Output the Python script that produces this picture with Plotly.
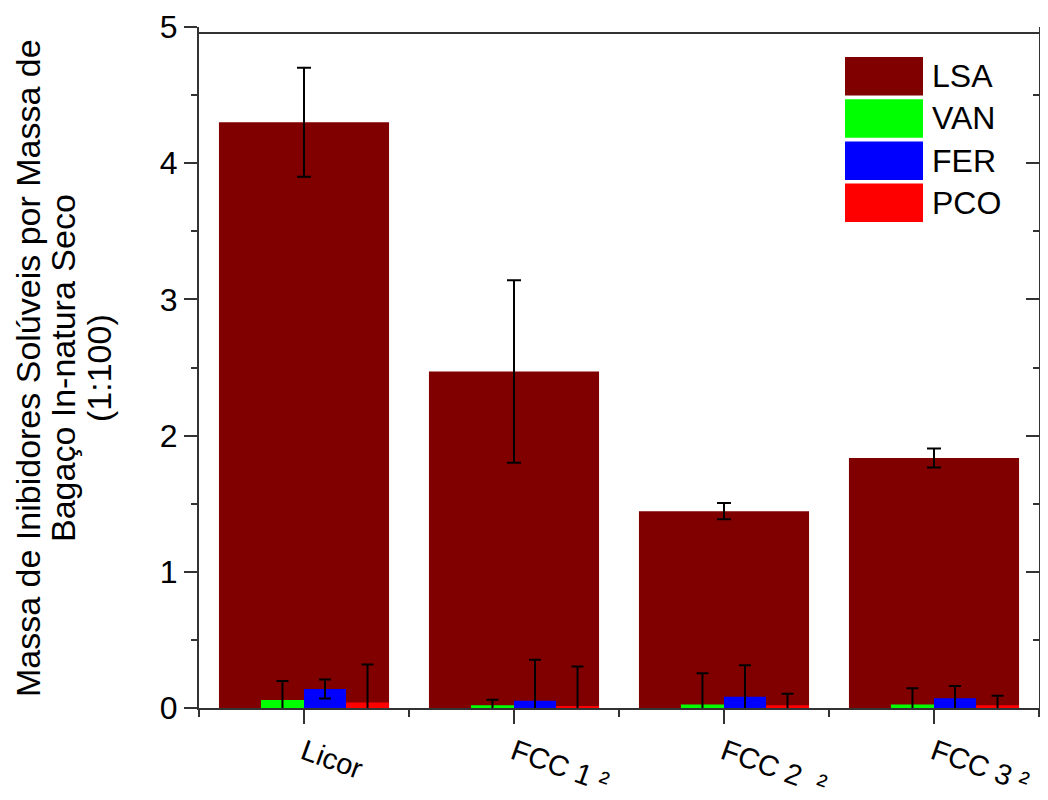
import plotly.graph_objects as go

categories = ["Licor", "FCC 1 ²", "FCC 2  ²", "FCC 3 ²"]
series_names = ["LSA", "VAN", "FER", "PCO"]
series_colors = ["#800000", "#00ff00", "#0000ff", "#ff0000"]

lsa = [4.30, 2.47, 1.445, 1.835]
lsa_err = [0.40, 0.67, 0.06, 0.07]
van = [0.058, 0.020, 0.025, 0.025]
van_err = [0.14, 0.04, 0.23, 0.12]
fer = [0.14, 0.054, 0.083, 0.071]
fer_err = [0.07, 0.30, 0.23, 0.09]
pco = [0.040, 0.015, 0.020, 0.020]
pco_err = [0.28, 0.29, 0.085, 0.07]

title_lines = ["Massa de Inibidores Solúveis por Massa de", "Bagaço In-natura Seco", "(1:100)"]

values = [lsa, van, fer, pco]
errors = [lsa_err, van_err, fer_err, pco_err]
offsets = [-0.405, -0.205, 0.0, 0.2]
widths = [0.81, 0.205, 0.2, 0.205]
capw = [7, 6, 6, 6]

xpos = list(range(1, len(categories) + 1))
FONT = "Liberation Sans, Arial, sans-serif"
AX = "#333333"

# page body has an 8px margin: figure occupies screen 8..1048 x 8..800
PL, PR, PT, PB = 199, 1039, 27, 708  # plot area in screen pixels
W, H = 1040, 792

fig = go.Figure()
for name, col, v, e, off, w, cw in zip(series_names, series_colors, values, errors, offsets, widths, capw):
    fig.add_trace(go.Bar(
        x=xpos, y=v, name=name, offset=off, width=w,
        marker=dict(color=col, line=dict(width=0)),
        error_y=dict(type="data", array=e, visible=True, color="black", thickness=2, width=cw),
        showlegend=False,
    ))

# invisible trace to anchor the right-hand mirror axis
fig.add_trace(go.Scatter(x=[1], y=[0], yaxis="y2", mode="markers",
                         marker=dict(opacity=0), showlegend=False, hoverinfo="skip"))

fig.update_layout(
    width=W, height=H,
    margin=dict(l=PL - 8, r=1048 - PR, t=PT - 8, b=800 - PB, autoexpand=False),
    paper_bgcolor="white", plot_bgcolor="white",
    barmode="overlay",
    font=dict(family=FONT, color="black"),
    xaxis=dict(
        range=[0.5, 4.5], tickmode="array", tickvals=xpos, ticktext=categories,
        tickangle=20, tickfont=dict(size=29, family=FONT), automargin=False,
        ticks="outside", ticklen=14, tickwidth=2, tickcolor=AX,
        showline=True, linecolor=AX, linewidth=2, mirror=False,
        showgrid=False, zeroline=False,
        minor=dict(tick0=0.5, dtick=1, ticks="outside", ticklen=7, tickwidth=2, tickcolor=AX),
    ),
    yaxis=dict(
        range=[0, 5], tickmode="array", tickvals=[0, 1, 2, 3, 4, 5],
        tickfont=dict(size=32, family=FONT), automargin=False,
        ticks="outside", ticklen=13, tickwidth=2, tickcolor=AX,
        showline=True, linecolor=AX, linewidth=2,
        showgrid=False, zeroline=False,
        minor=dict(tick0=0, dtick=0.5, ticks="outside", ticklen=6, tickwidth=2, tickcolor=AX),
    ),
    yaxis2=dict(
        range=[0, 5], overlaying="y", side="right", showticklabels=False, automargin=False,
        tickvals=[0, 1, 2, 3, 4, 5],
        ticks="inside", ticklen=13, tickwidth=2, tickcolor=AX,
        showline=True, linecolor=AX, linewidth=2,
        showgrid=False, zeroline=False,
        minor=dict(tick0=0, dtick=0.5, ticks="inside", ticklen=6, tickwidth=2, tickcolor=AX),
    ),
)

pw = PR - PL
ph = PB - PT


def px(x):
    return (x - PL) / pw


def py(y):
    return (PB - y) / ph


# top frame line (slightly below the 5 tick, as in the reference)
fig.add_shape(type="line", xref="paper", yref="y", x0=0, x1=1, y0=4.956, y1=4.956,
              line=dict(color=AX, width=2))

# y-axis title: three centred lines
for line_text, cx in zip(title_lines, [28, 63, 99]):
    fig.add_annotation(
        text=line_text, xref="paper", yref="paper", x=px(cx), y=py(368),
        xanchor="center", yanchor="middle", textangle=-90, showarrow=False,
        font=dict(size=34, family=FONT, color="black"),
    )

# legend drawn as large colour blocks
top0 = 57
pitch = 42.2
for i, (name, col) in enumerate(zip(series_names, series_colors)):
    ytop = top0 + i * pitch
    ybot = ytop + 38.5
    fig.add_shape(type="rect", xref="paper", yref="paper",
                  x0=px(845), x1=px(923), y0=py(ybot), y1=py(ytop),
                  fillcolor=col, line=dict(width=0))
    fig.add_annotation(text=name, xref="paper", yref="paper",
                       x=px(930), y=py((ytop + ybot) / 2), xanchor="left", yanchor="middle",
                       showarrow=False, font=dict(size=32, family=FONT, color="black"))

fig.write_html("out.html")
